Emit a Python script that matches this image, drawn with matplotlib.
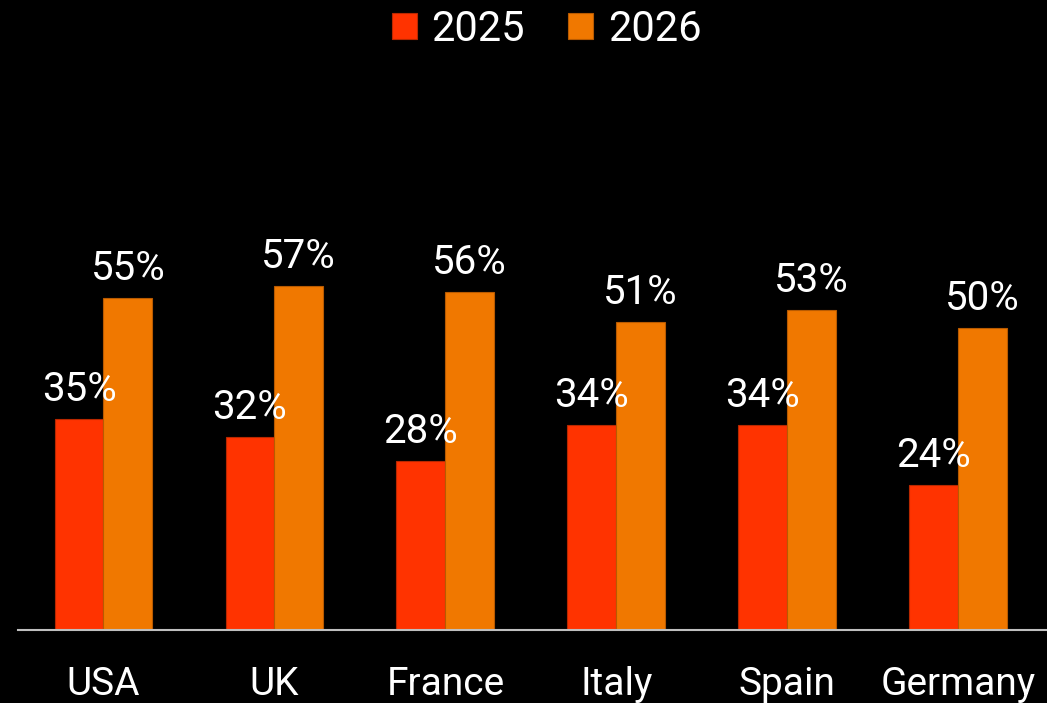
import numpy as np
import matplotlib
matplotlib.use('Agg')
import matplotlib.pyplot as plt

# Data
countries = ['USA', 'UK', 'France', 'Italy', 'Spain', 'Germany']
vals_2025 = [35, 32, 28, 34, 34, 24]
vals_2026 = [55, 57, 56, 51, 53, 50]

c_2025 = '#FF3300'
c_2026 = '#F07800'

plt.rcParams['font.family'] = ['Roboto', 'DejaVu Sans']

fig = plt.figure(figsize=(10.47, 7.03), dpi=100, facecolor='black')
ax = fig.add_axes([18 / 1047, 73 / 703, 1029 / 1047, 0.858])
ax.set_facecolor('black')

x = np.arange(len(countries))
w = 0.286
b1 = ax.bar(x - w / 2, vals_2025, w, color=c_2025, edgecolor='#B82800', linewidth=0.8, label='2025')
b2 = ax.bar(x + w / 2, vals_2026, w, color=c_2026, edgecolor='#B85A00', linewidth=0.8, label='2026')

# value labels
for bars, vals in [(b1, vals_2025), (b2, vals_2026)]:
    for bar, v in zip(bars, vals):
        ax.annotate(f'{v}%', (bar.get_x() + bar.get_width() / 2, v),
                    xytext=(0, 13), textcoords='offset points',
                    ha='center', va='baseline', color='white', fontsize=29)

ax.set_xlim(-0.5, 5.52)
ax.set_ylim(0, 100)
ax.set_xticks(x)
ax.set_xticklabels(countries, color='white', fontsize=28)
ax.tick_params(axis='x', length=0, pad=26)
ax.set_yticks([])
for s in ['top', 'right', 'left']:
    ax.spines[s].set_visible(False)
ax.spines['bottom'].set_color('#BFBFBF')
ax.spines['bottom'].set_linewidth(1.5)

leg = fig.legend(loc='upper center', bbox_to_anchor=(0.522, 1.041), ncol=2,
                 frameon=False, fontsize=30, handlelength=0.6, handleheight=0.6,
                 handletextpad=0.35, columnspacing=1.05, labelcolor='white')

fig.savefig('out.png', dpi=100, facecolor='black')
